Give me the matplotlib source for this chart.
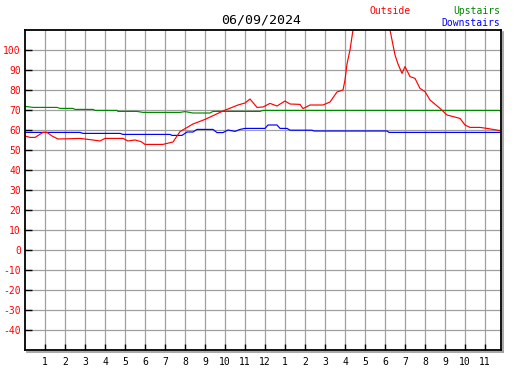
import matplotlib
matplotlib.use("Agg")
import matplotlib.pyplot as plt
from matplotlib.lines import Line2D

DATE_TITLE = "06/09/2024"

# hours since midnight, temperature (F)
outside_h = [0, 0.25, 0.5, 0.9, 1.1, 1.35, 1.65, 2.1, 2.75, 3.4, 3.75, 4.0, 4.9, 5.15, 5.5, 5.8, 6.0,
             6.9, 7.1, 7.4, 7.75, 8.4, 9.0, 9.9, 10.65, 11.0, 11.25, 11.6, 11.9, 12.25, 12.6, 13.0,
             13.25, 13.75, 13.9, 14.25, 14.9, 15.25, 15.6, 15.9, 16.0, 16.1, 16.25, 16.4, 16.65,
             17.25, 18.0, 18.25, 18.35, 18.5, 18.65, 18.85, 19.0, 19.25, 19.5, 19.75, 20.0, 20.25,
             20.75, 21.1, 21.75, 22.0, 22.25, 22.75, 23.1, 23.75]
outside_t = [57, 56.3, 56.3, 58.8, 58.8, 57, 55.5, 55.6, 55.8, 55, 54.5, 55.8, 55.8, 54.5, 55, 54.2, 52.8,
             52.8, 53.3, 54, 59.2, 63, 65.3, 69.5, 72.5, 73.5, 75.5, 71.3, 71.5, 73.3, 72, 74.5,
             73, 72.8, 70.7, 72.5, 72.5, 74, 79, 80, 85, 93, 100, 110, 125,
             130, 125, 110, 105, 97.5, 93, 88.3, 91.7, 86.7, 85.8, 80.8, 79.2, 75,
             70.8, 67.5, 65.8, 62.5, 61.3, 61.3, 60.8, 59.7]

upstairs_h = [0, 0.4, 1.6, 1.75, 2.4, 2.5, 3.4, 3.5, 4.6, 4.65, 5.6, 5.9, 7.75, 8.0, 8.4, 9.25, 9.4,
              11.75, 11.9, 23.7, 23.8]
upstairs_t = [71.8, 71.3, 71.3, 70.8, 70.8, 70.3, 70.3, 69.8, 69.8, 69.3, 69.3, 68.8, 68.8, 69.2, 68.5,
              68.5, 69.3, 69.3, 69.8, 69.8, 69.5]

downstairs_h = [0, 2.75, 2.9, 4.75, 4.9, 7.25, 7.35, 7.85, 8.1, 8.4, 8.6, 9.4, 9.6, 9.9, 10.15, 10.5,
                10.75, 11.0, 12.0, 12.15, 12.6, 12.75, 13.1, 13.25, 14.35, 14.45, 18.1, 18.2, 23.8]
downstairs_t = [58.8, 58.8, 58.3, 58.3, 57.8, 57.8, 57.3, 57.3, 59, 59, 60.3, 60.3, 58.7, 58.7, 60,
                59.3, 60.3, 60.8, 60.8, 62.5, 62.5, 60.8, 60.8, 59.9, 59.9, 59.5, 59.5, 58.8, 58.8]

x_ticks = list(range(1, 24))
x_labels = [str(h) for h in range(1, 13)] + [str(h) for h in range(1, 12)]
y_ticks = list(range(-40, 101, 10))

W, H = 527, 370
fig = plt.figure(figsize=(W / 100, H / 100), dpi=100)
ax = fig.add_axes([25 / W, 20 / H, 476 / W, 320 / H])

mono = "DejaVu Sans Mono"

ax.set_xlim(0, 23.8)
ax.set_ylim(-50, 110)
ax.set_xticks(x_ticks)
ax.set_xticklabels(x_labels, family=mono, fontsize=7)
ax.set_yticks(y_ticks)
ax.set_yticklabels([str(v) for v in y_ticks], family=mono, fontsize=7, color="red")
ax.tick_params(axis="x", direction="in", length=4, width=1, pad=5)
ax.tick_params(axis="y", direction="in", length=5, width=1, pad=3)
ax.grid(True, color="#a0a0a0", linewidth=0.9)
ax.set_axisbelow(True)
for s in ax.spines.values():
    s.set_color("black")
    s.set_linewidth(1.3)

ax.plot(upstairs_h, upstairs_t, color="#008800", lw=0.85)
ax.plot(downstairs_h, downstairs_t, color="blue", lw=0.85)
ax.plot(outside_h, outside_t, color="red", lw=0.85)

# shadow on right and bottom edges
fig.add_artist(Line2D([503 / W, 503 / W], [(H - 352) / H, (H - 32) / H], color="#999999", lw=1.2))
fig.add_artist(Line2D([27 / W, 503 / W], [(H - 352) / H, (H - 352) / H], color="#999999", lw=1.2))

fig.text(261 / W, 1 - 20 / H, DATE_TITLE, family=mono, fontsize=9.5, ha="center", va="center")
fig.text(370 / W, 1 - 11 / H, "Outside", family=mono, fontsize=7, color="red", ha="left", va="center")
fig.text(500 / W, 1 - 11 / H, "Upstairs", family=mono, fontsize=7, color="#008800", ha="right", va="center")
fig.text(500 / W, 1 - 23 / H, "Downstairs", family=mono, fontsize=7, color="blue", ha="right", va="center")

fig.savefig("out.png", dpi=100)
